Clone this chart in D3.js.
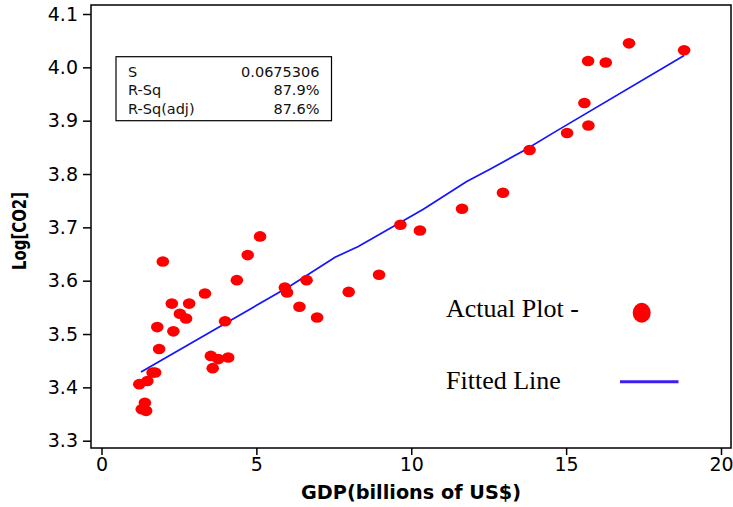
<!DOCTYPE html>
<html>
<head>
<meta charset="utf-8">
<script src="https://cdn.jsdelivr.net/npm/d3@7"></script>
<style>
  html, body { margin: 0; padding: 0; background: #fff; }
  svg { display: block; }
</style>
</head>
<body>
<svg id="chart" width="733" height="507"></svg>
<script>
// ---- Data ----
const gdp = [1.98, 4.72, 5.12, 4.37, 3.34, 2.27, 2.83, 2.53, 2.73, 1.80, 2.32, 1.86, 3.99,
             3.53, 3.77, 4.09, 3.59, 1.73, 1.65, 1.48, 1.22, 1.40, 1.30, 1.44,
             5.92, 5.99, 6.62, 6.39, 6.96, 7.98, 8.96, 9.65, 10.28, 11.64, 12.96,
             13.82, 15.03, 15.59, 15.72, 15.71, 16.28, 17.03, 18.81];
const logCO2 = [3.636, 3.648, 3.683, 3.601, 3.576, 3.557, 3.557, 3.538, 3.529, 3.513, 3.505, 3.472, 3.524,
                3.459, 3.453, 3.456, 3.436, 3.428, 3.428, 3.412, 3.406, 3.371, 3.359, 3.356,
                3.587, 3.578, 3.601, 3.551, 3.531, 3.579, 3.611, 3.705, 3.694, 3.735, 3.765,
                3.845, 3.877, 3.933, 3.891, 4.012, 4.009, 4.045, 4.032];
const fitX = [1.275, 6.09, 7.54, 8.29, 10.39, 11.79, 12.54, 13.67, 14.64, 18.81];
const fitY = [3.429, 3.590, 3.644, 3.664, 3.734, 3.786, 3.809, 3.845, 3.879, 4.022];
const xTicks = [0, 5, 10, 15, 20];
const yTicks = [3.3, 3.4, 3.5, 3.6, 3.7, 3.8, 3.9, 4.0, 4.1];
const statLabels = ["S", "R-Sq", "R-Sq(adj)"];
const statValues = ["0.0675306", "87.9%", "87.6%"];
const legendLabels = ["Actual Plot -", "Fitted Line"];
const xTitle = "GDP(billions of US$)";
const yTitle = "Log[CO2]";

// ---- Layout ----
const svg = d3.select("#chart");
const frame = { left: 91, right: 731, top: 5, bottom: 448 };
const x = d3.scaleLinear().domain([0, 20]).range([101.5, 721]);
const y = d3.scaleLinear().domain([3.3, 4.1]).range([440.7, 14]);

const tickFont = "'DejaVu Sans', Verdana, sans-serif";

// Frame
svg.append("rect")
  .attr("x", frame.left).attr("y", frame.top)
  .attr("width", frame.right - frame.left).attr("height", frame.bottom - frame.top)
  .attr("fill", "none").attr("stroke", "#000").attr("stroke-width", 1.5);

// X axis
const xAxis = d3.axisBottom(x).tickValues(xTicks).tickFormat(d3.format("d"))
  .tickSizeInner(7).tickSizeOuter(0).tickPadding(3);
const gx = svg.append("g").attr("transform", `translate(0,${frame.bottom})`).call(xAxis);
gx.select(".domain").remove();
gx.selectAll(".tick line").attr("stroke", "#000").attr("stroke-width", 1.5);
gx.selectAll(".tick text").attr("font-family", tickFont).attr("font-size", 19).attr("fill", "#000");

// Y axis
const yAxis = d3.axisLeft(y).tickValues(yTicks).tickFormat(d3.format(".1f"))
  .tickSizeInner(8).tickSizeOuter(0).tickPadding(5);
const gy = svg.append("g").attr("transform", `translate(${frame.left},0)`).call(yAxis);
gy.select(".domain").remove();
gy.selectAll(".tick line").attr("stroke", "#000").attr("stroke-width", 1.5);
gy.selectAll(".tick text").attr("font-family", tickFont).attr("font-size", 19).attr("fill", "#000");

// Axis titles
svg.append("text")
  .attr("x", (frame.left + frame.right) / 2).attr("y", 499)
  .attr("text-anchor", "middle")
  .attr("font-family", tickFont).attr("font-weight", "bold").attr("font-size", 19)
  .attr("textLength", 220).attr("lengthAdjust", "spacingAndGlyphs")
  .text(xTitle);
svg.append("text")
  .attr("transform", `translate(26,231) rotate(-90)`)
  .attr("text-anchor", "middle")
  .attr("font-family", tickFont).attr("font-weight", "bold").attr("font-size", 20)
  .attr("textLength", 78).attr("lengthAdjust", "spacingAndGlyphs")
  .text(yTitle);

// Fitted line
const fitData = fitX.map((d, i) => [d, fitY[i]]);
svg.append("path")
  .datum(fitData)
  .attr("d", d3.line().x(d => x(d[0])).y(d => y(d[1])))
  .attr("fill", "none").attr("stroke", "#1414ff").attr("stroke-width", 1.7);

// Points
svg.append("g").selectAll("ellipse")
  .data(gdp.map((d, i) => [d, logCO2[i]]))
  .join("ellipse")
  .attr("cx", d => x(d[0])).attr("cy", d => y(d[1]))
  .attr("rx", 6.3).attr("ry", 5.3)
  .attr("fill", "#ff0000");

// Stats box
const box = svg.append("g");
box.append("rect").attr("x", 116).attr("y", 56.7).attr("width", 215.5).attr("height", 64)
  .attr("fill", "#fff").attr("stroke", "#000").attr("stroke-width", 1.2);
statLabels.forEach((lab, i) => {
  box.append("text").attr("x", 128).attr("y", 76.7 + i * 18.7)
    .attr("font-family", tickFont).attr("font-size", 14.5).attr("fill", "#111").text(lab);
  box.append("text").attr("x", 319.5).attr("y", 76.7 + i * 18.7).attr("text-anchor", "end")
    .attr("font-family", tickFont).attr("font-size", 14.5).attr("fill", "#111").text(statValues[i]);
});

// Legend
const lg = svg.append("g");
const serif = "'Liberation Serif', 'Times New Roman', serif";
lg.append("text").attr("x", 446).attr("y", 316.7)
  .attr("font-family", serif).attr("font-size", 26).attr("fill", "#000").text(legendLabels[0]);
lg.append("text").attr("x", 446).attr("y", 389.3)
  .attr("font-family", serif).attr("font-size", 26).attr("fill", "#000").text(legendLabels[1]);
lg.append("ellipse").attr("cx", 641.7).attr("cy", 312.7).attr("rx", 9).attr("ry", 10).attr("fill", "#ff0000");
lg.append("line").attr("x1", 620).attr("x2", 678.5).attr("y1", 381.7).attr("y2", 381.7)
  .attr("stroke", "#3c1ef0").attr("stroke-width", 3);
</script>
</body>
</html>
